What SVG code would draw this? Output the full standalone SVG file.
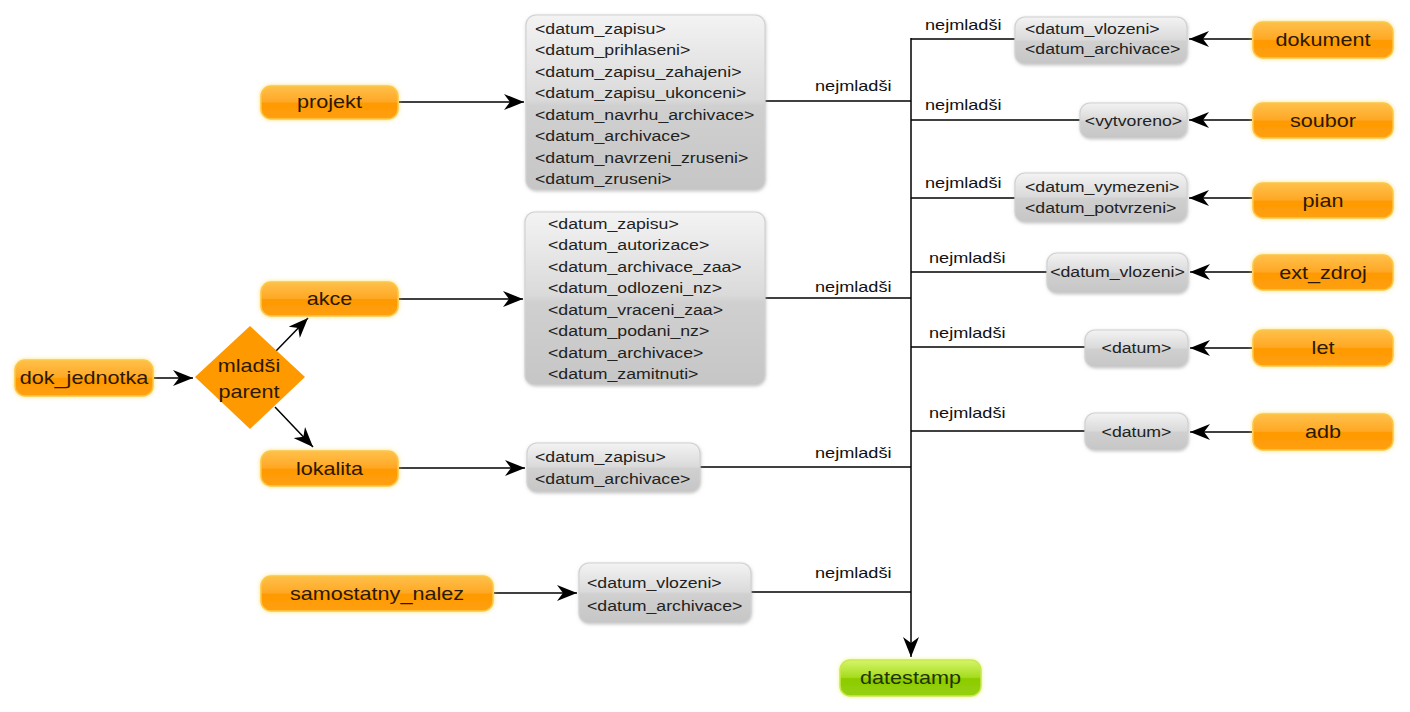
<svg xmlns="http://www.w3.org/2000/svg" width="1410" height="712" viewBox="0 0 1410 712">
<defs>
<linearGradient id="og" x1="0" y1="0" x2="0" y2="1">
<stop offset="0" stop-color="#ffc04a"/>
<stop offset="0.48" stop-color="#ffa825"/>
<stop offset="0.52" stop-color="#ff9900"/>
<stop offset="1" stop-color="#ffa010"/>
</linearGradient>
<linearGradient id="gg" x1="0" y1="0" x2="0" y2="1">
<stop offset="0" stop-color="#f3f3f3"/>
<stop offset="0.48" stop-color="#dadada"/>
<stop offset="0.52" stop-color="#d0d0d0"/>
<stop offset="1" stop-color="#c6c6c6"/>
</linearGradient>
<linearGradient id="grg" x1="0" y1="0" x2="0" y2="1">
<stop offset="0" stop-color="#d4f56a"/>
<stop offset="0.48" stop-color="#a6dc1e"/>
<stop offset="0.52" stop-color="#8ccc00"/>
<stop offset="1" stop-color="#96d010"/>
</linearGradient>
<filter id="glow" x="-20%" y="-50%" width="140%" height="200%">
<feDropShadow dx="0" dy="0" stdDeviation="2.2" flood-color="#ffd040" flood-opacity="0.7"/>
</filter>
<filter id="gglow" x="-20%" y="-50%" width="140%" height="200%">
<feDropShadow dx="0" dy="0" stdDeviation="2.2" flood-color="#e8f060" flood-opacity="0.7"/>
</filter>
<filter id="gsh" x="-10%" y="-10%" width="120%" height="120%">
<feDropShadow dx="0.5" dy="1" stdDeviation="1.5" flood-color="#909090" flood-opacity="0.5"/>
</filter>
<marker id="ah" viewBox="0 0 20 16" refX="20" refY="8" markerWidth="20" markerHeight="16" markerUnits="userSpaceOnUse" orient="auto">
<path d="M0,0 L20,8 L0,16 L6,8 Z" fill="#000"/>
</marker>
</defs>
<style>
.n rect{fill:url(#og);stroke:#f9c84a;stroke-width:1.5;filter:url(#glow)}
.nt{font-family:"Liberation Sans",Arial,sans-serif;font-size:18px;fill:#2b1800;text-anchor:middle}
.g rect{fill:url(#gg);stroke:#d2d2d2;stroke-width:1.2;filter:url(#gsh)}
.gt{font-family:"Liberation Sans",Arial,sans-serif;font-size:15px;fill:#222}
.gc{text-anchor:middle}
.lb{font-family:"Liberation Sans",Arial,sans-serif;font-size:14.5px;fill:#111}
.c line,.c path{stroke:#000;stroke-width:1.5;fill:none}
.a{marker-end:url(#ah)}
</style>
<rect width="1410" height="712" fill="#fff"/>

<g id="connectors" class="c">
<line class="a" x1="399" y1="102" x2="524" y2="102"/>
<line class="a" x1="399" y1="299" x2="523" y2="299"/>
<line class="a" x1="399" y1="468" x2="525" y2="468"/>
<line class="a" x1="494" y1="593" x2="577" y2="593"/>
<line class="a" x1="154" y1="378" x2="193" y2="378"/>
<line class="a" x1="276" y1="351" x2="308" y2="318"/>
<line class="a" x1="275" y1="407" x2="313" y2="447"/>
<line x1="765" y1="101" x2="911" y2="101"/>
<line x1="765" y1="298" x2="911" y2="298"/>
<line x1="700" y1="467" x2="911" y2="467"/>
<line x1="751" y1="592" x2="911" y2="592"/>
<line x1="911" y1="39" x2="1015" y2="39"/>
<line x1="911" y1="120" x2="1080" y2="120"/>
<line x1="911" y1="198" x2="1015" y2="198"/>
<line x1="911" y1="272" x2="1047" y2="272"/>
<line x1="911" y1="347" x2="1085" y2="347"/>
<line x1="911" y1="431" x2="1085" y2="431"/>
<line class="a" x1="1252" y1="39" x2="1189" y2="39"/>
<line class="a" x1="1252" y1="120" x2="1189" y2="120"/>
<line class="a" x1="1252" y1="198" x2="1189" y2="198"/>
<line class="a" x1="1252" y1="272" x2="1190" y2="272"/>
<line class="a" x1="1252" y1="348" x2="1190" y2="348"/>
<line class="a" x1="1252" y1="432" x2="1190" y2="432"/>
<line class="a" x1="911" y1="38" x2="911" y2="657"/>
</g>

<g id="labels">
<text class="lb" transform="translate(815,91) scale(1.25,1)">nejmladši</text>
<text class="lb" transform="translate(815,292) scale(1.25,1)">nejmladši</text>
<text class="lb" transform="translate(815,458) scale(1.25,1)">nejmladši</text>
<text class="lb" transform="translate(815,578) scale(1.25,1)">nejmladši</text>
<text class="lb" transform="translate(925,30) scale(1.25,1)">nejmladši</text>
<text class="lb" transform="translate(925,110) scale(1.25,1)">nejmladši</text>
<text class="lb" transform="translate(925,188) scale(1.25,1)">nejmladši</text>
<text class="lb" transform="translate(929,263) scale(1.25,1)">nejmladši</text>
<text class="lb" transform="translate(929,338) scale(1.25,1)">nejmladši</text>
<text class="lb" transform="translate(929,418) scale(1.25,1)">nejmladši</text>
</g>

<g id="dok_jednotka" class="n"><rect x="15" y="360" width="138" height="36" rx="10"/><text class="nt" transform="translate(84,384) scale(1.2,1)">dok_jednotka</text></g>
<g id="mladsi_parent">
<polygon points="250,326 305,377 250,429 195,377" fill="#ff9900"/>
<text class="nt" transform="translate(249,372) scale(1.2,1)">mladši</text>
<text class="nt" transform="translate(249,398) scale(1.2,1)">parent</text>
</g>
<g id="projekt" class="n"><rect x="261" y="86" width="137" height="33" rx="10"/><text class="nt" transform="translate(329.5,108) scale(1.2,1)">projekt</text></g>
<g id="akce" class="n"><rect x="261" y="282" width="137" height="34" rx="10"/><text class="nt" transform="translate(329.5,305) scale(1.2,1)">akce</text></g>
<g id="lokalita" class="n"><rect x="261" y="451" width="137" height="35" rx="10"/><text class="nt" transform="translate(329.5,475) scale(1.2,1)">lokalita</text></g>
<g id="samostatny_nalez" class="n"><rect x="261" y="576" width="232" height="35" rx="10"/><text class="nt" transform="translate(377,600) scale(1.2,1)">samostatny_nalez</text></g>

<g id="projekt_data" class="g">
<rect x="526" y="15" width="239" height="175" rx="10"/>
<text class="gt" transform="translate(535,33.5) scale(1.18,1)">&lt;datum_zapisu&gt;</text>
<text class="gt" transform="translate(535,55) scale(1.18,1)">&lt;datum_prihlaseni&gt;</text>
<text class="gt" transform="translate(535,76.5) scale(1.18,1)">&lt;datum_zapisu_zahajeni&gt;</text>
<text class="gt" transform="translate(535,98) scale(1.18,1)">&lt;datum_zapisu_ukonceni&gt;</text>
<text class="gt" transform="translate(535,119.5) scale(1.18,1)">&lt;datum_navrhu_archivace&gt;</text>
<text class="gt" transform="translate(535,141) scale(1.18,1)">&lt;datum_archivace&gt;</text>
<text class="gt" transform="translate(535,162.5) scale(1.18,1)">&lt;datum_navrzeni_zruseni&gt;</text>
<text class="gt" transform="translate(535,184) scale(1.18,1)">&lt;datum_zruseni&gt;</text>
</g>
<g id="akce_data" class="g">
<rect x="525" y="212" width="240" height="173" rx="10"/>
<text class="gt" transform="translate(548,228.5) scale(1.18,1)">&lt;datum_zapisu&gt;</text>
<text class="gt" transform="translate(548,250) scale(1.18,1)">&lt;datum_autorizace&gt;</text>
<text class="gt" transform="translate(548,271.5) scale(1.18,1)">&lt;datum_archivace_zaa&gt;</text>
<text class="gt" transform="translate(548,293) scale(1.18,1)">&lt;datum_odlozeni_nz&gt;</text>
<text class="gt" transform="translate(548,314.5) scale(1.18,1)">&lt;datum_vraceni_zaa&gt;</text>
<text class="gt" transform="translate(548,336) scale(1.18,1)">&lt;datum_podani_nz&gt;</text>
<text class="gt" transform="translate(548,357.5) scale(1.18,1)">&lt;datum_archivace&gt;</text>
<text class="gt" transform="translate(548,379) scale(1.18,1)">&lt;datum_zamitnuti&gt;</text>
</g>
<g id="lokalita_data" class="g">
<rect x="527" y="443" width="173" height="49" rx="10"/>
<text class="gt" transform="translate(535,462) scale(1.18,1)">&lt;datum_zapisu&gt;</text>
<text class="gt" transform="translate(535,484) scale(1.18,1)">&lt;datum_archivace&gt;</text>
</g>
<g id="samostatny_nalez_data" class="g">
<rect x="579" y="563" width="172" height="60" rx="10"/>
<text class="gt" transform="translate(587,588) scale(1.18,1)">&lt;datum_vlozeni&gt;</text>
<text class="gt" transform="translate(587,611) scale(1.18,1)">&lt;datum_archivace&gt;</text>
</g>
<g id="dokument_data" class="g">
<rect x="1015" y="17" width="172" height="47" rx="10"/>
<text class="gt" transform="translate(1025,34) scale(1.18,1)">&lt;datum_vlozeni&gt;</text>
<text class="gt" transform="translate(1025,54) scale(1.18,1)">&lt;datum_archivace&gt;</text>
</g>
<g id="soubor_data" class="g">
<rect x="1080" y="103" width="107" height="35" rx="10"/>
<text class="gt gc" transform="translate(1133.5,126) scale(1.18,1)">&lt;vytvoreno&gt;</text>
</g>
<g id="pian_data" class="g">
<rect x="1015" y="173" width="172" height="49" rx="10"/>
<text class="gt" transform="translate(1025,192) scale(1.18,1)">&lt;datum_vymezeni&gt;</text>
<text class="gt" transform="translate(1025,213) scale(1.18,1)">&lt;datum_potvrzeni&gt;</text>
</g>
<g id="ext_zdroj_data" class="g">
<rect x="1047" y="253" width="141" height="40" rx="10"/>
<text class="gt gc" transform="translate(1117.5,277) scale(1.18,1)">&lt;datum_vlozeni&gt;</text>
</g>
<g id="let_data" class="g">
<rect x="1085" y="330" width="103" height="37" rx="10"/>
<text class="gt gc" transform="translate(1136.5,353) scale(1.18,1)">&lt;datum&gt;</text>
</g>
<g id="adb_data" class="g">
<rect x="1085" y="413" width="103" height="37" rx="10"/>
<text class="gt gc" transform="translate(1136.5,437) scale(1.18,1)">&lt;datum&gt;</text>
</g>

<g id="dokument" class="n"><rect x="1253" y="22" width="140" height="36" rx="10"/><text class="nt" transform="translate(1323,46) scale(1.2,1)">dokument</text></g>
<g id="soubor" class="n"><rect x="1253" y="103" width="140" height="35" rx="10"/><text class="nt" transform="translate(1323,126.5) scale(1.2,1)">soubor</text></g>
<g id="pian" class="n"><rect x="1253" y="183" width="140" height="35" rx="10"/><text class="nt" transform="translate(1323,206.5) scale(1.2,1)">pian</text></g>
<g id="ext_zdroj" class="n"><rect x="1253" y="255" width="140" height="35" rx="10"/><text class="nt" transform="translate(1323,278.5) scale(1.2,1)">ext_zdroj</text></g>
<g id="let" class="n"><rect x="1253" y="330" width="140" height="36" rx="10"/><text class="nt" transform="translate(1323,354) scale(1.2,1)">let</text></g>
<g id="adb" class="n"><rect x="1253" y="414" width="140" height="36" rx="10"/><text class="nt" transform="translate(1323,438) scale(1.2,1)">adb</text></g>

<g id="datestamp"><rect x="840" y="660" width="141" height="36" rx="10" fill="url(#grg)" stroke="#c8e850" stroke-width="1.5" filter="url(#gglow)"/><text class="nt" style="fill:#1f3300" transform="translate(910.5,684) scale(1.2,1)">datestamp</text></g>
</svg>
